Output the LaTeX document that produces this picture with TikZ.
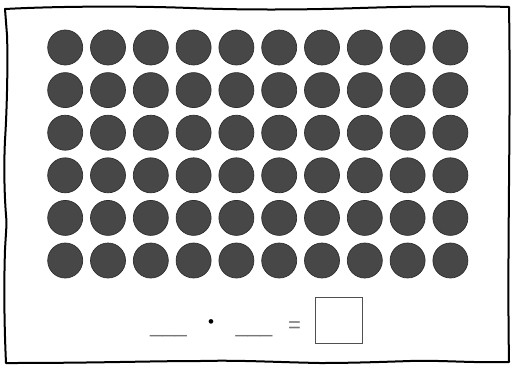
\documentclass[tikz,border=0pt]{standalone}
\usepackage{fontspec}
\setmainfont{Liberation Sans}
\usepackage{tikz}
\usetikzlibrary{positioning, calc}

\definecolor{dotgray}{HTML}{474747}
\definecolor{dotedge}{HTML}{2E2E2E}
\definecolor{blankgray}{HTML}{777777}
\definecolor{boxgray}{HTML}{505050}

\begin{document}
\begin{tikzpicture}[x=1pt, y=-1pt,
    dot/.style={circle, fill=dotgray, draw=dotedge, line width=0.7pt, minimum size=35pt, inner sep=0pt},
    term/.style={anchor=base, inner sep=0pt, font=\fontsize{22}{24}\selectfont, text=blankgray},
    answerbox/.style={draw=boxgray, line width=1pt, minimum width=47pt, minimum height=46pt, inner sep=0pt}]
  \useasboundingbox (0,0) rectangle (513,365);

  % sketchy frame
  \draw[line width=2pt, line join=round, line cap=round]
    (5,9) .. controls (60,6) and (140,6) .. (190,8)
    .. controls (240,10) and (300,10) .. (360,8)
    .. controls (420,6) and (480,6) .. (509,7)
    .. controls (511,120) and (507,250) .. (509,362)
    .. controls (470,363) and (440,360) .. (410,361)
    .. controls (380,362) and (350,363) .. (320,363)
    .. controls (270,362) and (240,360) .. (200,361)
    .. controls (150,361) and (100,363) .. (6,363)
    .. controls (4,320) and (4,280) .. (5,250)
    .. controls (6,230) and (7,225) .. (6,215)
    .. controls (4,190) and (4,160) .. (5,140)
    .. controls (7,110) and (8,60) .. (7,35)
    -- cycle;

  % array of dots
  \foreach \row in {1,...,6}
    \foreach \col in {1,...,10}
      \node[dot] (d\row-\col) at ({65.2+42.8*(\col-1)},{47.5+42.6*(\row-1)}) {};

  % equation
  \node[term] (blank1) at (168.5,332) {\_\_\_};
  \node[inner sep=0pt, font=\fontsize{17}{19}\selectfont] (times) at (211,323.5) {•};
  \node[term] (blank2) at (254,332) {\_\_\_};
  \node[term] (equals) at (294.5,332) {=};
  \node[answerbox] (result) at (338.5,320) {};
\end{tikzpicture}
\end{document}
